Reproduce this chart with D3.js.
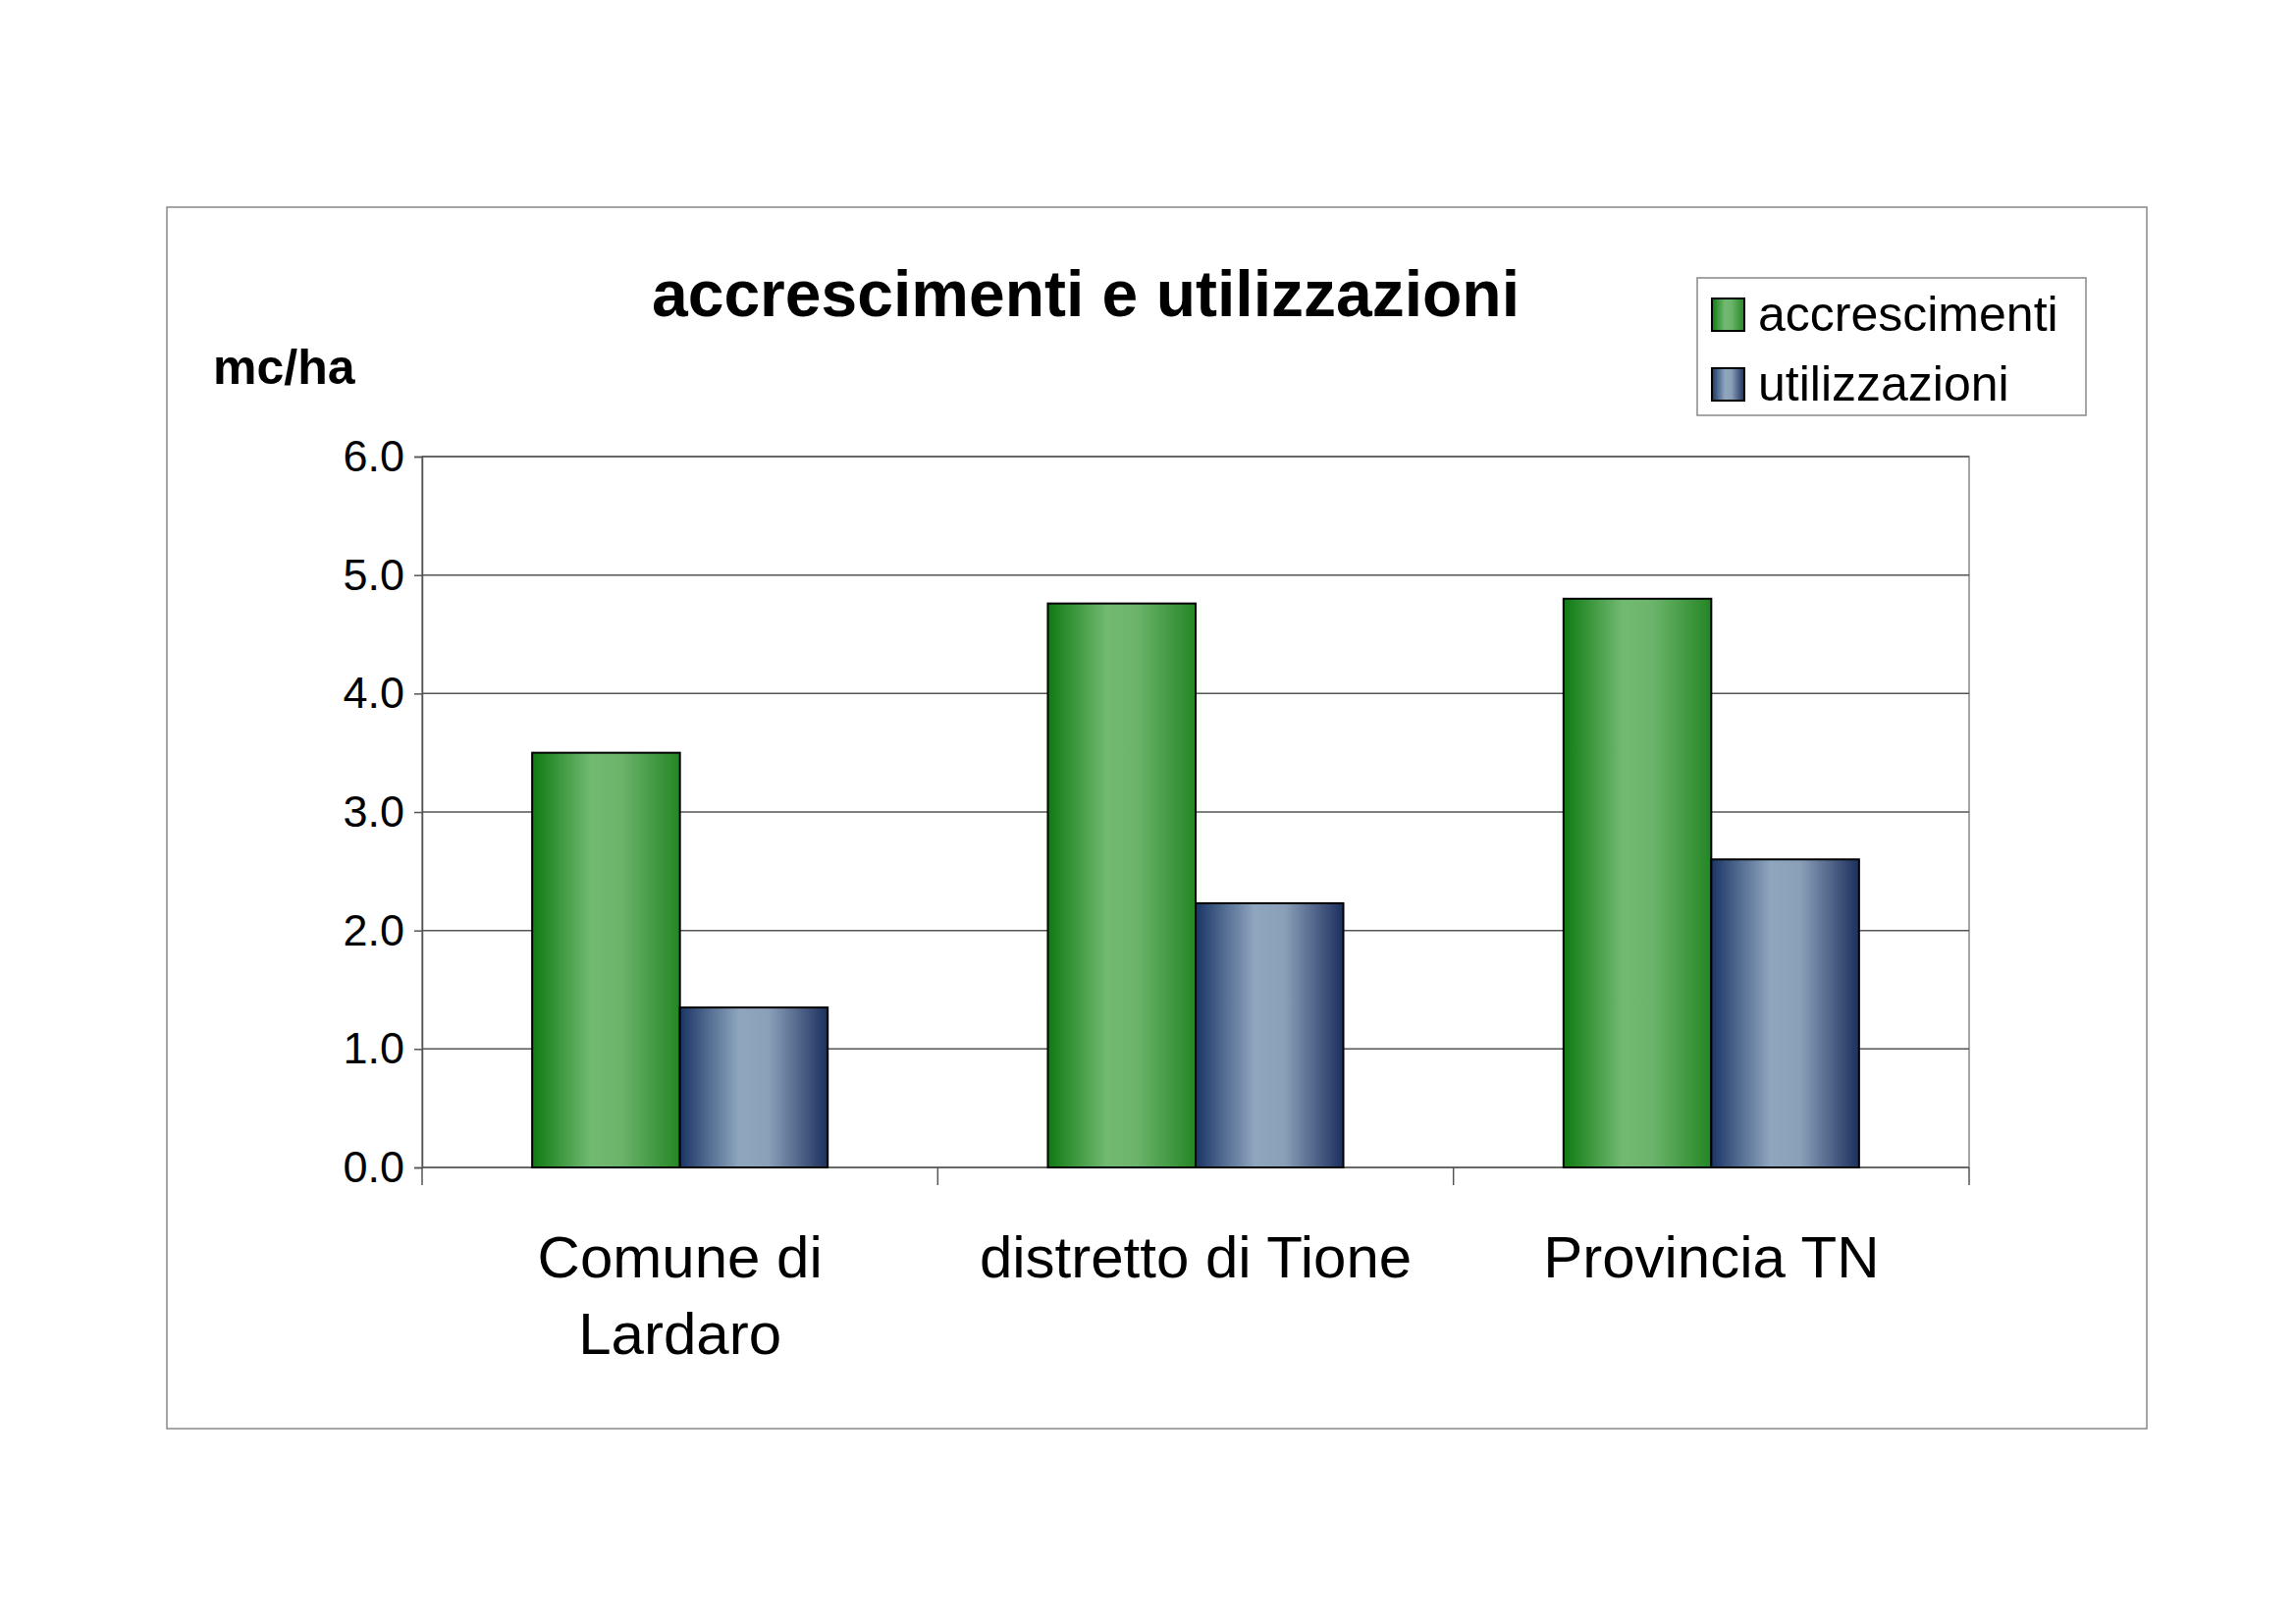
<!DOCTYPE html>
<html><head><meta charset="utf-8">
<script src="https://cdn.jsdelivr.net/npm/d3@7/dist/d3.min.js"></script>
<style>body{margin:0;background:#fff}svg{font-family:"Liberation Sans",Arial,sans-serif}</style>
</head><body>
<svg id="chart" width="2339" height="1654"></svg>
<script>
const categories = [['Comune di', 'Lardaro'], ['distretto di Tione'], ['Provincia TN']];
const seriesNames = ['accrescimenti', 'utilizzazioni'];
const accrescimenti = [3.5, 4.76, 4.8];
const utilizzazioni = [1.35, 2.23, 2.6];
const yTicks = [0, 1, 2, 3, 4, 5, 6];

const svg = d3.select('#chart');
const defs = svg.append('defs');
const grads = [
  ['g0', ['#0f7a12', '#72ba72', '#6cb46c', '#248624']],
  ['g1', ['#1a3566', '#8fa6bf', '#8aa0b9', '#1c2f5e']]
];
grads.forEach(([id, c]) => {
  const g = defs.append('linearGradient').attr('id', id).attr('x1', 0).attr('x2', 1).attr('y1', 0).attr('y2', 0);
  [0, 0.4, 0.6, 1].forEach((o, i) => g.append('stop').attr('offset', o).attr('stop-color', c[i]));
});

svg.append('rect').attr('x', 170).attr('y', 211).attr('width', 2017).attr('height', 1244)
  .attr('fill', 'none').attr('stroke', '#888').attr('stroke-width', 1.5);

const pL = 430, pR = 2006, pT = 465, pB = 1189;
const x = d3.scaleBand().domain(d3.range(categories.length)).range([pL, pR]);
const y = d3.scaleLinear().domain([0, 6]).range([pB, pT]);

svg.append('rect').attr('x', pL).attr('y', pT).attr('width', pR - pL).attr('height', pB - pT)
  .attr('fill', 'none').attr('stroke', '#888').attr('stroke-width', 1.5);

svg.selectAll('line.grid').data(yTicks.slice(1)).enter().append('line')
  .attr('x1', pL).attr('x2', pR).attr('y1', d => y(d)).attr('y2', d => y(d))
  .attr('stroke', '#555').attr('stroke-width', 1.5);

const yAxis = svg.append('g').attr('transform', `translate(${pL},0)`)
  .call(d3.axisLeft(y).tickValues(yTicks).tickSize(8).tickPadding(10));
yAxis.select('.domain').attr('stroke', '#555').attr('stroke-width', 1.5);
yAxis.selectAll('line').attr('stroke', '#555').attr('stroke-width', 1.5);
yAxis.selectAll('text').attr('font-size', 45).attr('fill', '#000').attr('font-family', 'Liberation Sans');

svg.append('line').attr('x1', pL).attr('x2', pR).attr('y1', pB).attr('y2', pB)
  .attr('stroke', '#555').attr('stroke-width', 1.5);
svg.selectAll('line.xt').data(d3.range(categories.length + 1)).enter().append('line')
  .attr('x1', d => pL + d * x.bandwidth()).attr('x2', d => pL + d * x.bandwidth())
  .attr('y1', pB).attr('y2', pB + 18).attr('stroke', '#555').attr('stroke-width', 1.5);

const barW = x.bandwidth() * 100 / 349;
[accrescimenti, utilizzazioni].forEach((vals, s) => {
  svg.selectAll('rect.s' + s).data(vals).enter().append('rect')
    .attr('x', (d, i) => x(i) + x.bandwidth() / 2 - barW + s * barW)
    .attr('y', d => y(d)).attr('width', barW).attr('height', d => pB - y(d))
    .attr('fill', `url(#g${s})`).attr('stroke', '#000').attr('stroke-width', 2);
});

categories.forEach((lines, i) => {
  const t = svg.append('text').attr('text-anchor', 'middle').attr('font-size', 60);
  lines.forEach((l, j) => t.append('tspan').attr('x', x(i) + x.bandwidth() / 2).attr('y', 1301 + j * 78).text(l));
});

svg.append('text').attr('x', 1106).attr('y', 322).attr('text-anchor', 'middle')
  .attr('font-size', 66).attr('font-weight', 'bold').text('accrescimenti e utilizzazioni');
svg.append('text').attr('x', 217).attr('y', 391).attr('font-size', 50).attr('font-weight', 'bold').text('mc/ha');

svg.append('rect').attr('x', 1729).attr('y', 283).attr('width', 396).attr('height', 140)
  .attr('fill', '#fff').attr('stroke', '#888').attr('stroke-width', 1.5);
seriesNames.forEach((n, i) => {
  svg.append('rect').attr('x', 1744).attr('y', 304 + i * 71).attr('width', 33).attr('height', 33)
    .attr('fill', `url(#g${i})`).attr('stroke', '#000').attr('stroke-width', 2);
  svg.append('text').attr('x', 1791).attr('y', 337 + i * 71).attr('font-size', 50).text(n);
});
</script>
</body></html>
